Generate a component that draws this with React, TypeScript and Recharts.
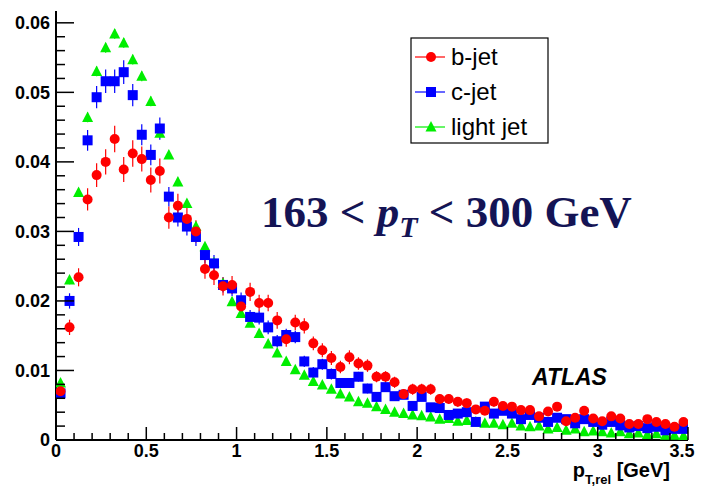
import React from 'react';
import { ComposedChart, Scatter, XAxis, YAxis, ErrorBar } from 'recharts';

// bin centres of p_T,rel [GeV]
const binCenters = [
  0.025, 0.075, 0.125, 0.175, 0.225, 0.275, 0.325, 0.375, 0.425, 0.475,
  0.525, 0.575, 0.625, 0.675, 0.725, 0.775, 0.825, 0.875, 0.925, 0.975,
  1.025, 1.075, 1.125, 1.175, 1.225, 1.275, 1.325, 1.375, 1.425, 1.475,
  1.525, 1.575, 1.625, 1.675, 1.725, 1.775, 1.825, 1.875, 1.925, 1.975,
  2.025, 2.075, 2.125, 2.175, 2.225, 2.275, 2.325, 2.375, 2.425, 2.475,
  2.525, 2.575, 2.625, 2.675, 2.725, 2.775, 2.825, 2.875, 2.925, 2.975,
  3.025, 3.075, 3.125, 3.175, 3.225, 3.275, 3.325, 3.375, 3.425, 3.475,
];

const bJet = [
  0.0070, 0.0162, 0.0234, 0.0346, 0.0381, 0.0400, 0.0433, 0.0389, 0.0412, 0.0404,
  0.0374, 0.0387, 0.0320, 0.0337, 0.0318, 0.0300, 0.0246, 0.0237, 0.0221, 0.0223,
  0.0192, 0.0213, 0.0197, 0.0197, 0.0172, 0.0145, 0.0169, 0.0164, 0.0139, 0.0129,
  0.0118, 0.0105, 0.0119, 0.0110, 0.0107, 0.0091, 0.0091, 0.0083, 0.0066, 0.0073,
  0.0073, 0.0073, 0.0059, 0.0059, 0.0055, 0.0053, 0.0044, 0.0042, 0.0055, 0.0049,
  0.0048, 0.0043, 0.0043, 0.0034, 0.0041, 0.0048, 0.0027, 0.0032, 0.0042, 0.0031,
  0.0027, 0.0034, 0.0031, 0.0023, 0.0023, 0.0030, 0.0026, 0.0023, 0.0019, 0.0026,
];
const bErr = [
  0.0008, 0.0011, 0.0013, 0.0016, 0.0017, 0.0018, 0.0019, 0.0018, 0.0019, 0.0018,
  0.0018, 0.0018, 0.0016, 0.0017, 0.0016, 0.0016, 0.0014, 0.0014, 0.0013, 0.0013,
  0.0013, 0.0013, 0.0012, 0.0012, 0.0012, 0.0011, 0.0011, 0.0011, 0.0010, 0.0010,
  0.0010, 0.0009, 0.0010, 0.0009, 0.0009, 0.0008, 0.0008, 0.0008, 0.0007, 0.0008,
  0.0008, 0.0008, 0.0007, 0.0007, 0.0007, 0.0007, 0.0006, 0.0006, 0.0007, 0.0006,
  0.0006, 0.0006, 0.0006, 0.0005, 0.0006, 0.0006, 0.0005, 0.0005, 0.0006, 0.0005,
  0.0005, 0.0005, 0.0005, 0.0004, 0.0004, 0.0005, 0.0004, 0.0004, 0.0004, 0.0005,
];

const cJet = [
  0.0067, 0.0200, 0.0292, 0.0431, 0.0493, 0.0516, 0.0516, 0.0529, 0.0496, 0.0439,
  0.0410, 0.0448, 0.0350, 0.0320, 0.0307, 0.0292, 0.0266, 0.0254, 0.0223, 0.0218,
  0.0201, 0.0177, 0.0176, 0.0162, 0.0142, 0.0151, 0.0148, 0.0113, 0.0097, 0.0109,
  0.0095, 0.0082, 0.0082, 0.0091, 0.0074, 0.0062, 0.0076, 0.0063, 0.0065, 0.0049,
  0.0062, 0.0047, 0.0046, 0.0036, 0.0038, 0.0040, 0.0026, 0.0048, 0.0038, 0.0042,
  0.0038, 0.0030, 0.0036, 0.0032, 0.0026, 0.0032, 0.0030, 0.0024, 0.0030, 0.0026,
  0.0022, 0.0026, 0.0021, 0.0018, 0.0020, 0.0017, 0.0019, 0.0014, 0.0016, 0.0016,
];
const cErr = [
  0.0007, 0.0011, 0.0013, 0.0015, 0.0016, 0.0017, 0.0017, 0.0017, 0.0016, 0.0015,
  0.0015, 0.0016, 0.0014, 0.0013, 0.0013, 0.0013, 0.0012, 0.0012, 0.0011, 0.0011,
  0.0011, 0.0010, 0.0010, 0.0010, 0.0009, 0.0009, 0.0009, 0.0008, 0.0008, 0.0008,
  0.0008, 0.0007, 0.0007, 0.0007, 0.0007, 0.0006, 0.0007, 0.0006, 0.0006, 0.0005,
  0.0006, 0.0005, 0.0005, 0.0005, 0.0005, 0.0005, 0.0004, 0.0005, 0.0005, 0.0005,
  0.0005, 0.0004, 0.0005, 0.0004, 0.0004, 0.0004, 0.0004, 0.0004, 0.0004, 0.0004,
  0.0004, 0.0004, 0.0004, 0.0003, 0.0004, 0.0003, 0.0003, 0.0003, 0.0003, 0.0003,
];

const lightJet = [
  0.0082, 0.0230, 0.0356, 0.0464, 0.0530, 0.0564, 0.0584, 0.0571, 0.0547, 0.0523,
  0.0487, 0.0441, 0.0410, 0.0371, 0.0340, 0.0307, 0.0278, 0.0255, 0.0225, 0.0199,
  0.0182, 0.0168, 0.0153, 0.0138, 0.0125, 0.0113, 0.0101, 0.0093, 0.0084, 0.0079,
  0.0073, 0.0066, 0.0062, 0.0055, 0.0053, 0.0048, 0.0044, 0.0040, 0.0038, 0.0036,
  0.0035, 0.0033, 0.0030, 0.0031, 0.0027, 0.0028, 0.0026, 0.0024, 0.0024, 0.0022,
  0.0024, 0.0020, 0.0019, 0.0020, 0.0016, 0.0018, 0.0014, 0.0016, 0.0012, 0.0013,
  0.0012, 0.0010, 0.0012, 0.0009, 0.0010, 0.0008, 0.0009, 0.0007, 0.0007, 0.0006,
];
const lightErr = [
  0.0004, 0.0006, 0.0006, 0.0007, 0.0007, 0.0007, 0.0007, 0.0007, 0.0007, 0.0007,
  0.0007, 0.0006, 0.0006, 0.0006, 0.0006, 0.0006, 0.0005, 0.0005, 0.0005, 0.0005,
  0.0005, 0.0004, 0.0004, 0.0004, 0.0004, 0.0004, 0.0004, 0.0003, 0.0003, 0.0003,
  0.0003, 0.0003, 0.0003, 0.0003, 0.0003, 0.0003, 0.0003, 0.0002, 0.0002, 0.0002,
  0.0002, 0.0002, 0.0002, 0.0002, 0.0002, 0.0002, 0.0002, 0.0002, 0.0002, 0.0002,
  0.0002, 0.0002, 0.0002, 0.0002, 0.0002, 0.0002, 0.0002, 0.0002, 0.0002, 0.0002,
  0.0002, 0.0002, 0.0002, 0.0002, 0.0002, 0.0002, 0.0002, 0.0002, 0.0002, 0.0002,
];

const seriesNames = ['b-jet', 'c-jet', 'light jet'];

const yTicks = [
  0, 0.002, 0.004, 0.006, 0.008, 0.01, 0.012, 0.014, 0.016, 0.018, 0.02,
  0.022, 0.024, 0.026, 0.028, 0.03, 0.032, 0.034, 0.036, 0.038, 0.04,
  0.042, 0.044, 0.046, 0.048, 0.05, 0.052, 0.054, 0.056, 0.058, 0.06,
];
const yMajorLabels = ['0', '0.01', '0.02', '0.03', '0.04', '0.05', '0.06'];
const xTicks = [
  0, 0.1, 0.2, 0.3, 0.4, 0.5, 0.6, 0.7, 0.8, 0.9, 1, 1.1, 1.2, 1.3, 1.4, 1.5,
  1.6, 1.7, 1.8, 1.9, 2, 2.1, 2.2, 2.3, 2.4, 2.5, 2.6, 2.7, 2.8, 2.9, 3, 3.1,
  3.2, 3.3, 3.4, 3.5,
];
const xMajorLabels = ['0', '0.5', '1', '1.5', '2', '2.5', '3', '3.5'];

const build = (vals: number[], errs: number[]) =>
  binCenters.map((x, i) => ({ x, y: vals[i], err: errs[i] }));

const bData = build(bJet, bErr);
const cData = build(cJet, cErr);
const lData = build(lightJet, lightErr);

const RED = '#ff0000';
const BLUE = '#0000ff';
const GREEN = '#00ee00';
const FONT = '"Liberation Sans", Arial, Helvetica, sans-serif';

const Circle = (p: any) => <circle cx={p.cx} cy={p.cy} r={5} fill={RED} />;
const Square = (p: any) => <rect x={p.cx - 5} y={p.cy - 5} width={10} height={10} fill={BLUE} />;
const Triangle = (p: any) => (
  <polygon
    points={`${p.cx},${p.cy - 6} ${p.cx - 5.5},${p.cy + 4.5} ${p.cx + 5.5},${p.cy + 4.5}`}
    fill={GREEN}
  />
);

const YTick = (props: any) => {
  const { x, y, payload } = props;
  const v = payload.value;
  const k = Math.round(v * 100);
  const major = Math.abs(v * 100 - k) < 1e-6;
  const len = major ? 18 : 9;
  return (
    <g>
      <line x1={x} x2={x + len} y1={y} y2={y} stroke="#000" strokeWidth={1.5} />
      {major && (
        <text x={x - 6} y={y} dy="0.36em" textAnchor="end" fontFamily={FONT} fontWeight="bold" fontSize={18} fill="#000">
          {yMajorLabels[k]}
        </text>
      )}
    </g>
  );
};

const XTick = (props: any) => {
  const { x, y, payload } = props;
  const v = payload.value;
  const k = Math.round(v * 2);
  const major = Math.abs(v * 2 - k) < 1e-6;
  const len = major ? 13 : 7;
  const shift = k === 7 ? -6 : 0;
  return (
    <g>
      <line x1={x} x2={x} y1={y} y2={y - len} stroke="#000" strokeWidth={1.5} />
      {major && (
        <text x={x + shift} y={y + 17} textAnchor="middle" fontFamily={FONT} fontWeight="bold" fontSize={18} fill="#000">
          {xMajorLabels[k]}
        </text>
      )}
    </g>
  );
};

const LegendMarker = ({ i, cx, cy }: { i: number; cx: number; cy: number }) => {
  const color = [RED, BLUE, GREEN][i];
  return (
    <g>
      <line x1={cx - 16} x2={cx + 14} y1={cy} y2={cy} stroke={color} strokeWidth={1.2} />
      {i === 0 && <circle cx={cx} cy={cy} r={5} fill={RED} />}
      {i === 1 && <rect x={cx - 5} y={cy - 5} width={10} height={10} fill={BLUE} />}
      {i === 2 && <polygon points={`${cx},${cy - 6} ${cx - 5.5},${cy + 4.5} ${cx + 5.5},${cy + 4.5}`} fill={GREEN} />}
    </g>
  );
};

export default function App() {
  const W = 687;
  const H = 481;
  return (
    <div style={{ position: 'relative', width: W, height: H, background: '#fff' }}>
      <ComposedChart
        width={W}
        height={H}
        margin={{ top: 3, right: 7, bottom: 0, left: 0 }}
      >
        <XAxis
          xAxisId="main"
          type="number"
          dataKey="x"
          domain={[0, 3.5]}
          ticks={xTicks}
          interval={0}
          allowDataOverflow
          height={49}
          tickSize={0}
          tickMargin={0}
          tickLine={false}
          tick={<XTick />}
          axisLine={{ stroke: '#000', strokeWidth: 2 }}
        />
        <XAxis
          xAxisId="top"
          orientation="top"
          type="number"
          domain={[0, 3.5]}
          height={0}
          tick={false}
          tickLine={false}
          axisLine={{ stroke: '#666', strokeWidth: 1.5 }}
        />
        <YAxis
          yAxisId="main"
          type="number"
          dataKey="y"
          domain={[0, 0.0617]}
          ticks={yTicks}
          interval={0}
          allowDataOverflow
          width={48}
          tickSize={0}
          tickMargin={0}
          tickLine={false}
          tick={<YTick />}
          axisLine={{ stroke: '#000', strokeWidth: 2 }}
        />
        <YAxis
          yAxisId="right"
          orientation="right"
          type="number"
          domain={[0, 0.0617]}
          width={0}
          tick={false}
          tickLine={false}
          axisLine={{ stroke: '#555', strokeWidth: 2 }}
        />
        <Scatter
          name={seriesNames[2]}
          data={lData}
          xAxisId="main"
          yAxisId="main"
          fill={GREEN}
          shape={Triangle}
          isAnimationActive={false}
        >
          <ErrorBar dataKey="err" direction="y" width={0} stroke={GREEN} strokeWidth={1.2} />
        </Scatter>
        <Scatter
          name={seriesNames[1]}
          data={cData}
          xAxisId="main"
          yAxisId="main"
          fill={BLUE}
          shape={Square}
          isAnimationActive={false}
        >
          <ErrorBar dataKey="err" direction="y" width={0} stroke={BLUE} strokeWidth={1.2} />
        </Scatter>
        <Scatter
          name={seriesNames[0]}
          data={bData}
          xAxisId="main"
          yAxisId="main"
          fill={RED}
          shape={Circle}
          isAnimationActive={false}
        >
          <ErrorBar dataKey="err" direction="y" width={0} stroke={RED} strokeWidth={1.2} />
        </Scatter>
      </ComposedChart>
      <svg
        width={W}
        height={H}
        style={{ position: 'absolute', left: 0, top: 0, pointerEvents: 'none' }}
      >
        {/* legend */}
        <rect x={403} y={30} width={137} height={105} fill="#fff" stroke="#000" strokeWidth={1.2} />
        {seriesNames.map((n, i) => (
          <g key={n}>
            <LegendMarker i={i} cx={423} cy={49 + i * 35} />
            <text x={443} y={49 + i * 35} dy="0.35em" fontFamily={FONT} fontSize={24} fill="#000">
              {n}
            </text>
          </g>
        ))}
        {/* pT range annotation */}
        <text
          x={253}
          y={219}
          fontFamily='"Liberation Serif", "Times New Roman", serif'
          fontWeight="bold"
          fontSize={45}
          fill="#141455"
        >
          163 &lt; <tspan fontStyle="italic">p</tspan>
          <tspan fontStyle="italic" fontSize={30} dy={10}>T</tspan>
          <tspan dy={-10}> &lt; 300 GeV</tspan>
        </text>
        {/* ATLAS */}
        <text x={524} y={377} fontFamily={FONT} fontWeight="bold" fontStyle="italic" fontSize={23} fill="#000">
          ATLAS
        </text>
        {/* x axis title */}
        <text x={662} y={469} textAnchor="end" fontFamily={FONT} fontWeight="bold" fontSize={20} fill="#000">
          p<tspan fontSize={13} dy={7}>T,rel</tspan>
          <tspan dy={-7}> [GeV]</tspan>
        </text>
      </svg>
    </div>
  );
}
